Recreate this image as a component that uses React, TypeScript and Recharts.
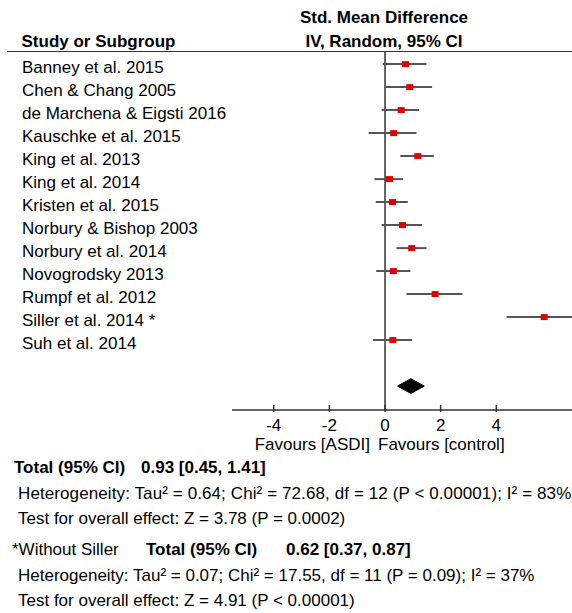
import React from "react";
import { ComposedChart, Scatter, ErrorBar, XAxis, YAxis, ReferenceLine } from "recharts";

const STUDIES = [
  "Banney et al. 2015",
  "Chen & Chang 2005",
  "de Marchena & Eigsti 2016",
  "Kauschke et al. 2015",
  "King et al. 2013",
  "King et al. 2014",
  "Kristen et al. 2015",
  "Norbury & Bishop 2003",
  "Norbury et al. 2014",
  "Novogrodsky 2013",
  "Rumpf et al. 2012",
  "Siller et al. 2014 *",
  "Suh et al. 2014",
];
const SMD = [0.74, 0.89, 0.58, 0.31, 1.18, 0.16, 0.27, 0.63, 0.96, 0.3, 1.8, 5.72, 0.28];
const CI_LOW = [-0.08, 0.01, -0.12, -0.59, 0.55, -0.38, -0.33, -0.12, 0.41, -0.32, 0.77, 4.37, -0.43];
const CI_HIGH = [1.49, 1.69, 1.22, 1.13, 1.75, 0.65, 0.82, 1.33, 1.49, 0.91, 2.78, 7.07, 0.97];
const X_TICKS = [-4, -2, 0, 2, 4];

const TOTAL_SMD = 0.93;
const TOTAL_LOW = 0.45;
const TOTAL_HIGH = 1.41;

const FONT = "'Liberation Sans', Arial, sans-serif";
const W = 572;
const H = 613;
const DIAMOND_ROW = 14;

const studyRows = STUDIES.map((_, i) => ({
  row: i,
  x: SMD[i],
  err: [SMD[i] - CI_LOW[i], CI_HIGH[i] - SMD[i]],
}));

// diamond outline: left tip, top, right tip, bottom, back to left
const diamondPts = [
  { x: TOTAL_LOW, row: DIAMOND_ROW },
  { x: TOTAL_SMD, row: DIAMOND_ROW - 0.32 },
  { x: TOTAL_HIGH, row: DIAMOND_ROW },
  { x: TOTAL_SMD, row: DIAMOND_ROW + 0.32 },
  { x: TOTAL_LOW, row: DIAMOND_ROW },
];

const StudyTick = (p: any) => (
  <text x={22} y={p.y + 4} dominantBaseline="middle" fontSize={17} fill="#000" fontFamily={FONT}>
    {STUDIES[p.payload.value]}
  </text>
);

const AxisTick = (p: any) => (
  <g>
    <line x1={p.x} x2={p.x} y1={p.y - 5} y2={p.y + 2} stroke="#333" strokeWidth={1.5} />
    <text x={p.x} y={p.y + 17} textAnchor="middle" dominantBaseline="middle" fontSize={17} fill="#000" fontFamily={FONT}>
      {p.payload.value}
    </text>
  </g>
);

const Square = (p: any) => <rect x={p.cx - 3.5} y={p.cy - 3} width={7} height={6} fill="#e00000" />;

const txt = (left: number, cy: number, bold = false): React.CSSProperties => ({
  position: "absolute",
  left,
  top: cy - 10,
  lineHeight: "20px",
  fontSize: 17,
  fontWeight: bold ? 700 : 400,
  whiteSpace: "nowrap",
});

export default function App() {
  return (
    <div style={{ position: "absolute", left: 0, top: 0, width: W, height: H, overflow: "hidden", background: "#fff", fontFamily: FONT, color: "#000" }}>
      <ComposedChart width={W} height={H} margin={{ top: 51.7, right: 0, bottom: 173, left: 0 }}>
        <XAxis
          type="number"
          dataKey="x"
          domain={[-5.5, 6.72]}
          allowDataOverflow
          ticks={X_TICKS}
          interval={0}
          height={30}
          tickSize={0}
          tickMargin={0}
          tickLine={false}
          axisLine={{ stroke: "#333", strokeWidth: 1.5 }}
          tick={AxisTick}
        />
        <YAxis
          type="number"
          dataKey="row"
          domain={[-0.54, 15.04]}
          allowDataOverflow
          reversed
          ticks={STUDIES.map((_, i) => i)}
          interval={0}
          width={232}
          axisLine={false}
          tickLine={false}
          tick={StudyTick}
        />
        <ReferenceLine x={0} stroke="#333" strokeWidth={1.5} />
        <Scatter data={studyRows} shape={Square} isAnimationActive={false}>
          <ErrorBar dataKey="err" direction="x" width={0} stroke="#555" strokeWidth={2} />
        </Scatter>
        <Scatter
          data={diamondPts}
          shape={() => <g />}
          line={{ stroke: "#000", fill: "#000", strokeWidth: 1 }}
          lineJointType="linear"
          isAnimationActive={false}
        />
      </ComposedChart>

      <div style={{ position: "absolute", left: 7, top: 51, width: W - 7, borderTop: "1.5px solid #333" }} />
      <div style={txt(21.5, 41.5, true)}>Study or Subgroup</div>
      <div style={{ ...txt(284, 18, true), width: 200, textAlign: "center" }}>Std. Mean Difference</div>
      <div style={{ ...txt(284, 41.5, true), width: 200, textAlign: "center" }}>IV, Random, 95% CI</div>

      <div style={{ ...txt(170, 445), width: 200, textAlign: "right" }}>Favours [ASDI]</div>
      <div style={txt(378, 445)}>Favours [control]</div>

      <div style={txt(14, 468, true)}>Total (95% CI)</div>
      <div style={txt(141, 468, true)}>0.93 [0.45, 1.41]</div>
      <div style={{ ...txt(18, 494), letterSpacing: 0.1 }}>Heterogeneity: Tau² = 0.64; Chi² = 72.68, df = 12 (P &lt; 0.00001); I² = 83%</div>
      <div style={txt(18, 519)}>Test for overall effect: Z = 3.78 (P = 0.0002)</div>

      <div style={txt(12, 550)}>*Without Siller</div>
      <div style={txt(146, 550, true)}>Total (95% CI)</div>
      <div style={txt(286, 550, true)}>0.62 [0.37, 0.87]</div>
      <div style={txt(18, 576)}>Heterogeneity: Tau² = 0.07; Chi² = 17.55, df = 11 (P = 0.09); I² = 37%</div>
      <div style={txt(18, 601)}>Test for overall effect: Z = 4.91 (P &lt; 0.00001)</div>
    </div>
  );
}
